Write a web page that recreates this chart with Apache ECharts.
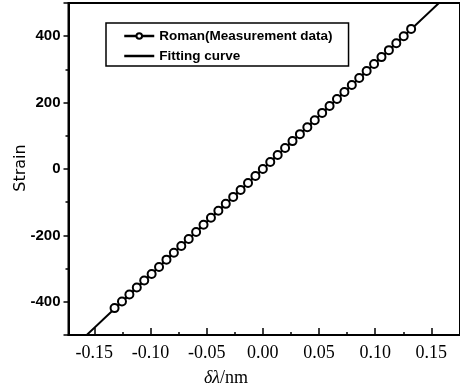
<!DOCTYPE html>
<html>
<head>
<meta charset="utf-8">
<script src="https://cdn.jsdelivr.net/npm/echarts@6/dist/echarts.min.js"></script>
<style>
html,body{margin:0;padding:0;background:#fff;}
#chart{width:460px;height:391px;}
</style>
</head>
<body>
<div id="chart"></div>
<script>
// Measurement data (Roman)
const deltaLambda = [-0.132, -0.1254, -0.1188, -0.1122, -0.1056, -0.099, -0.0924, -0.0858, -0.0792, -0.0726,
  -0.066, -0.0594, -0.0528, -0.0462, -0.0396, -0.033, -0.0264, -0.0198, -0.0132, -0.0066,
  0, 0.0066, 0.0132, 0.0198, 0.0264, 0.033, 0.0396, 0.0462, 0.0528, 0.0594,
  0.066, 0.0726, 0.0792, 0.0858, 0.0924, 0.099, 0.1056, 0.1122, 0.1188, 0.1254, 0.132];
const strain = [-419, -399, -378, -357, -336, -316, -295, -273, -252, -232,
  -211, -190, -168, -147, -126, -105, -84, -63, -42, -21,
  0, 21, 42, 63, 84, 105, 126, 147, 169, 190,
  211, 232, 253, 274, 295, 316, 337, 358, 379, 400, 422];
// Fitting curve end points
const fitX = [-0.18, 0.18];
const fitY = [-574, 574];
const seriesNames = ['Roman(Measurement data)', 'Fitting curve'];

const chart = echarts.init(document.getElementById('chart'));
const measData = deltaLambda.map((v, i) => [v, strain[i]]);
const fitData = fitX.map((v, i) => [v, fitY[i]]);

chart.setOption({
  animation: false,
  backgroundColor: '#fff',
  grid: {left: 68.5, right: -2, top: 3, bottom: 56, show: true, borderColor: '#000', borderWidth: 2, backgroundColor: 'transparent'},
  legend: {
    orient: 'vertical', left: 106, top: 23,
    padding: [5, 16, 2, 17], itemGap: 4,
    itemWidth: 30, itemHeight: 7,
    borderColor: '#000', borderWidth: 1.5,
    lineStyle: {width: 2.5},
    data: [
      {name: seriesNames[0]},
      {name: seriesNames[1], itemStyle: {opacity: 0}}
    ],
    textStyle: {fontFamily: 'Liberation Sans', fontWeight: 'bold', fontSize: 13.5, color: '#000', lineHeight: 16}
  },
  xAxis: {
    type: 'value', min: -0.173, max: 0.1755, splitNumber: 7,
    axisLine: {onZero: false, lineStyle: {color: '#000', width: 2}},
    axisTick: {inside: true, length: 7, lineStyle: {color: '#000', width: 1.5}},
    minorTick: {show: true, splitNumber: 2, length: 3, lineStyle: {color: '#000', width: 1.5}},
    splitLine: {show: false},
    axisLabel: {showMinLabel: false, showMaxLabel: false, margin: 9, color: '#000',
      fontFamily: 'Liberation Serif', fontSize: 18, formatter: v => v.toFixed(2)}
  },
  yAxis: {
    type: 'value', min: -500, max: 500, splitNumber: 5,
    axisLine: {onZero: false, lineStyle: {color: '#000', width: 2}},
    axisTick: {inside: false, length: 5, lineStyle: {color: '#000', width: 1.5}},
    minorTick: {show: true, splitNumber: 2, length: 3, lineStyle: {color: '#000', width: 1.5}},
    splitLine: {show: false},
    axisLabel: {showMinLabel: false, showMaxLabel: false, margin: 8, color: '#000',
      fontFamily: 'Liberation Sans', fontWeight: 'bold', fontSize: 15}
  },
  graphic: [
    {type: 'text', x: 21, y: 168, rotation: Math.PI / 2,
      style: {text: 'Strain', align: 'center', verticalAlign: 'middle', fontFamily: 'DejaVu Sans', fontSize: 16, fill: '#000'}},
    {type: 'text', x: 226, y: 378,
      style: {text: '{i|δλ}{n|/nm}', align: 'center', verticalAlign: 'middle',
        rich: {i: {fontFamily: 'Liberation Serif', fontStyle: 'italic', fontSize: 18, fill: '#000', color: '#000'},
               n: {fontFamily: 'Liberation Serif', fontSize: 18, fill: '#000', color: '#000'}}}}
  ],
  series: [
    {name: seriesNames[1], type: 'line', data: fitData, showSymbol: false, symbol: 'none',
      lineStyle: {color: '#000', width: 2}, itemStyle: {color: '#000'}, z: 2},
    {name: seriesNames[0], type: 'line', data: measData, symbol: 'emptyCircle', symbolSize: 8,
      lineStyle: {color: '#000', width: 2}, itemStyle: {color: '#000', borderWidth: 2}, z: 3}
  ]
});
</script>
</body>
</html>
